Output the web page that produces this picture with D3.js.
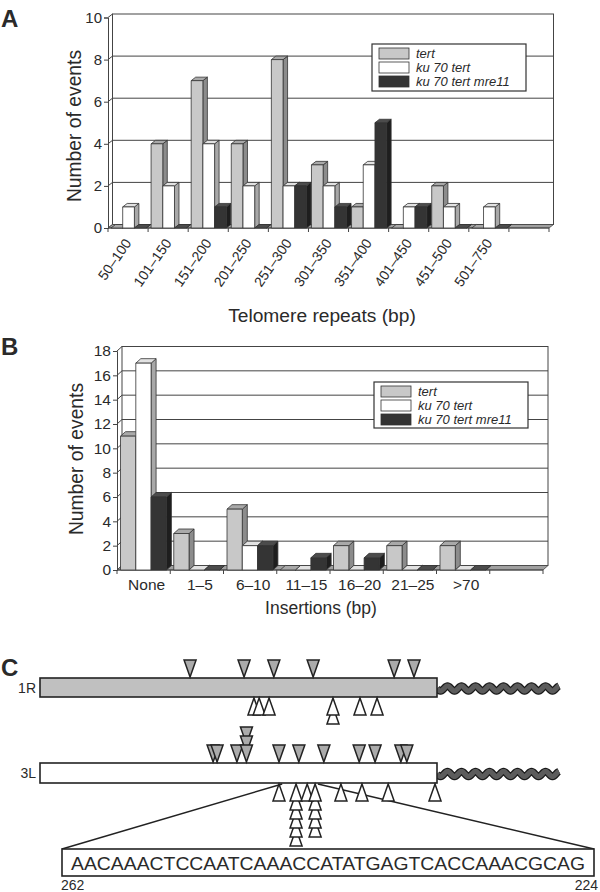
<!DOCTYPE html>
<html><head><meta charset="utf-8">
<script src="https://cdn.jsdelivr.net/npm/d3@7"></script>
<style>
body{margin:0;background:#fff}
svg{display:block}
text{font-family:"Liberation Sans",Arial,Helvetica,sans-serif;fill:#2a2a2a}
</style>
</head><body>
<svg id="c" width="600" height="892"></svg>
<script>
// ---------- Panel A data ----------
const catsA = ["50–100","101–150","151–200","201–250","251–300","301–350","351–400","401–450","451–500","501–750"];
const tertA  = [0,4,7,4,8,3,1,0,2,0];
const ku70A  = [1,2,4,2,2,2,3,1,1,1];
const mre11A = [0,0,1,0,2,1,5,1,0,0];
const ticksA = [0,2,4,6,8,10];
// ---------- Panel B data ----------
const catsB = ["None","1–5","6–10","11–15","16–20","21–25",">70"];
const tertB  = [11,3,5,0,2,2,2];
const ku70B  = [17,0,2,0,0,0,0];
const mre11B = [6,0,2,1,1,0,0];
const ticksB = [0,2,4,6,8,10,12,14,16,18];
const seriesNames = ["tert","ku 70 tert","ku 70 tert mre11"];
// ---------- Panel C data (position along subtelomere, % of drawn length) ----------
const c1RAbove = [37.8,51.4,58.9,68.8,89.2,94.2];
const c1RBelow = [53.9,55.2,57.7,73.8,73.8,80.6,84.9];
const c3LAbove = [43.6,44.6,49.6,52.0,52.0,52.0,60.2,65.2,71.5,80.4,84.4,90.9,92.4];
const c3LBelow = [60.2,64.5,64.5,64.5,64.5,64.5,64.5,67.3,69.3,69.3,69.3,69.3,69.3,75.8,81.1,87.7,99.5];
const zoomRange = [61,70];
const sequence = "AACAAACTCCAATCAAACCATATGAGTCACCAAACGCAG";
const seqEnds = ["262","224"];

const svg = d3.select("#c");
const palette = [
  {front:"#c8c8c8", top:"#a9a9a9", side:"#8c8c8c"},
  {front:"#ffffff", top:"#e2e2e2", side:"#a8a8a8"},
  {front:"#343434", top:"#4c4c4c", side:"#1e1e1e"}
];
const STROKE = "#333";

function chart3D(o){
  const g = svg.append("g");
  const y = d3.scaleLinear().domain([0,o.yMax]).range([o.bottom,o.top]);
  const x = d3.scaleBand().domain(d3.range(o.nSlots)).range([o.x0,o.x1]);
  const xs = d3.scaleBand().domain([0,1,2]).range([o.pad, o.pad+3*o.bw]);
  const dx=o.dx, dy=o.dy;
  // back wall
  g.append("rect").attr("x",o.x0+dx).attr("y",y(o.yMax)+dy)
    .attr("width",o.x1-o.x0).attr("height",y(0)-y(o.yMax))
    .attr("fill","#fff").attr("stroke","#444").attr("stroke-width",1);
  // gridlines
  o.ticks.forEach(t=>{
    if(t>0 && t<o.yMax){
      g.append("line").attr("x1",o.x0+dx).attr("x2",o.x1+dx)
        .attr("y1",y(t)+dy).attr("y2",y(t)+dy).attr("stroke","#444").attr("stroke-width",1);
    }
    g.append("line").attr("x1",o.x0).attr("x2",o.x0+dx)
      .attr("y1",y(t)).attr("y2",y(t)+dy).attr("stroke","#444").attr("stroke-width",1);
  });
  // floor
  g.append("path").attr("d",`M${o.x0},${y(0)}L${o.x1},${y(0)}L${o.x1+dx},${y(0)+dy}L${o.x0+dx},${y(0)+dy}Z`)
    .attr("fill","#a0a0a0").attr("stroke","#444").attr("stroke-width",0.8);
  // y axis
  const ya = g.append("g").attr("transform",`translate(${o.x0},0)`)
    .call(d3.axisLeft(y).tickValues(o.ticks).tickSize(4).tickPadding(2));
  ya.select(".domain").attr("stroke","#444");
  ya.selectAll(".tick line").attr("stroke","#444");
  ya.selectAll(".tick text").attr("font-size",o.tickFont).attr("fill","#2a2a2a")
    .attr("font-family","Liberation Sans, Arial, sans-serif");
  // x axis
  const xa = g.append("g").attr("transform",`translate(0,${y(0)})`)
    .call(d3.axisBottom(x).tickSize(0).tickFormat(""));
  xa.select(".domain").remove();
  g.append("line").attr("x1",o.x0).attr("x2",o.x1).attr("y1",y(0)).attr("y2",y(0)).attr("stroke","#444");
  d3.range(o.nSlots+1).forEach(i=>{
    const xx = i<o.nSlots ? x(i) : o.x1;
    g.append("line").attr("x1",xx).attr("x2",xx).attr("y1",y(0)).attr("y2",y(0)+4).attr("stroke","#444");
  });
  // bars
  o.cats.forEach((c,ci)=>{
    o.series.forEach((vals,si)=>{
      const v = vals[ci];
      const xl = x(ci)+xs(si), xr = xl+o.bw, yt = y(v), yb = y(0);
      const col = palette[si];
      const bg = g.append("g").attr("stroke",STROKE).attr("stroke-width",0.8).attr("stroke-linejoin","round");
      bg.append("path").attr("d",`M${xr},${yb}L${xr},${yt}L${xr+dx},${yt+dy}L${xr+dx},${yb+dy}Z`).attr("fill",col.side);
      bg.append("path").attr("d",`M${xl},${yt}L${xl+dx},${yt+dy}L${xr+dx},${yt+dy}L${xr},${yt}Z`).attr("fill",col.top);
      if(v>0) bg.append("rect").attr("x",xl).attr("y",yt).attr("width",o.bw).attr("height",yb-yt).attr("fill",col.front);
    });
  });
  // category labels
  o.cats.forEach((c,ci)=>{
    const cx = x(ci)+x.bandwidth()/2;
    if(o.rotate){
      g.append("text").attr("transform",`translate(${cx+o.labDx},${o.labY}) rotate(${o.rotate})`)
        .attr("text-anchor","end").attr("font-size",o.catFont).text(c);
    } else {
      g.append("text").attr("x",cx+o.labDx).attr("y",o.labY).attr("text-anchor","middle")
        .attr("font-size",o.catFont).text(c);
    }
  });
  // axis titles
  g.append("text").attr("transform",`translate(${o.ytX},${o.ytY}) rotate(-90)`)
    .attr("text-anchor","middle").attr("font-size",19.3).text("Number of events");
  g.append("text").attr("x",o.xtX).attr("y",o.xtY).attr("text-anchor","middle")
    .attr("font-size",o.xtFont).text(o.xTitle);
  // legend
  const L = o.legend;
  const lg = g.append("g");
  lg.append("rect").attr("x",L.x).attr("y",L.y).attr("width",L.w).attr("height",L.h)
    .attr("fill","#fff").attr("stroke","#333").attr("stroke-width",1.2);
  seriesNames.forEach((n,i)=>{
    lg.append("rect").attr("x",L.x+7).attr("y",L.y+4+i*L.row).attr("width",30).attr("height",L.row-3)
      .attr("fill",palette[i].front).attr("stroke","#333").attr("stroke-width",0.8);
    lg.append("text").attr("x",L.x+44).attr("y",L.y+13.5+i*L.row).attr("font-size",13)
      .attr("font-style","italic").text(n);
  });
  return g;
}

// Panel A
chart3D({x0:108,x1:549,top:17.5,bottom:228,yMax:10,dx:4.5,dy:-3.5,nSlots:11,
  cats:catsA, series:[tertA,ku70A,mre11A], ticks:ticksA, pad:3, bw:11.7, tickFont:15,
  rotate:-55, labDx:4, labY:243, catFont:14,
  ytX:81, ytY:126, xtX:322, xtY:322, xtFont:19.2, xTitle:"Telomere repeats (bp)",
  legend:{x:372,y:44,w:154,h:47,row:14}});
// Panel B
chart3D({x0:117,x1:543,top:351,bottom:570,yMax:18,dx:5,dy:-4.5,nSlots:8,
  cats:catsB, series:[tertB,ku70B,mre11B], ticks:ticksB, pad:3.5, bw:15.3, tickFont:15.5,
  rotate:0, labDx:3, labY:590, catFont:15.5,
  ytX:83, ytY:459, xtX:321, xtY:614, xtFont:17.5, xTitle:"Insertions (bp)",
  legend:{x:374,y:382,w:154,h:46,row:14}});

// panel letters
[["A",27],["B",355],["C",676]].forEach(([t,yy])=>{
  svg.append("text").attr("x",1).attr("y",yy).attr("font-size",24).attr("font-weight","bold")
    .attr("fill","#111").text(t);
});

// ---------- Panel C ----------
const xC = d3.scaleLinear().domain([0,100]).range([40,437]);
const TW=12, TH=17, LV=9;
function stackLevels(arr){
  const seen = {};
  return arr.map(p=>{const k=String(p); seen[k]=(seen[k]||0); return {p, lvl:seen[k]++};});
}
function chromosome(yTop, h, fill, label, above, below){
  const g = svg.append("g");
  const yc = yTop+h/2+1;
  const wave = d3.range(0,123,1).map(t=>[xC(100)+t, yc+2.6*Math.sin(t/14*2*Math.PI)]);
  const line = d3.line().curve(d3.curveBasis);
  g.append("path").attr("d",line(wave)).attr("fill","none").attr("stroke","#1a1a1a").attr("stroke-width",7.5);
  g.append("path").attr("d",line(wave)).attr("fill","none").attr("stroke","#5c5c5c").attr("stroke-width",5);
  g.append("rect").attr("x",xC(0)).attr("y",yTop).attr("width",xC(100)-xC(0)).attr("height",h)
    .attr("fill",fill).attr("stroke","#222").attr("stroke-width",1.6);
  g.append("text").attr("x",36).attr("y",yTop+h/2+5).attr("text-anchor","end").attr("font-size",14).text(label);
  stackLevels(above).sort((a,b)=>b.lvl-a.lvl).forEach(d=>{
    const cx=xC(d.p), tip=yTop-1-d.lvl*LV;
    g.append("path").attr("d",`M${cx-TW/2},${tip-TH}L${cx+TW/2},${tip-TH}L${cx},${tip}Z`)
      .attr("fill","#ababab").attr("stroke","#222").attr("stroke-width",1.5);
  });
  stackLevels(below).sort((a,b)=>b.lvl-a.lvl).forEach(d=>{
    const cx=xC(d.p), tip=yTop+h+1+d.lvl*LV;
    g.append("path").attr("d",`M${cx-TW/2},${tip+TH}L${cx+TW/2},${tip+TH}L${cx},${tip}Z`)
      .attr("fill","#fff").attr("stroke","#222").attr("stroke-width",1.5);
  });
  return g;
}
const box = {x0:62,x1:594,y0:849,y1:876};
svg.append("line").attr("x1",xC(zoomRange[0])).attr("y1",784).attr("x2",box.x0).attr("y2",box.y0)
  .attr("stroke","#222").attr("stroke-width",1.5);
svg.append("line").attr("x1",xC(zoomRange[1])).attr("y1",784).attr("x2",box.x1).attr("y2",box.y0)
  .attr("stroke","#222").attr("stroke-width",1.5);
chromosome(678,19,"#c0c0c0","1R",c1RAbove,c1RBelow);
chromosome(763,20,"#ffffff","3L",c3LAbove,c3LBelow);
svg.append("rect").attr("x",box.x0).attr("y",box.y0).attr("width",box.x1-box.x0).attr("height",box.y1-box.y0)
  .attr("fill","#fff").attr("stroke","#222").attr("stroke-width",1.6);
svg.append("text").attr("x",(box.x0+box.x1)/2).attr("y",870).attr("text-anchor","middle")
  .attr("font-size",19.2).attr("textLength",514).attr("lengthAdjust","spacingAndGlyphs").text(sequence);
svg.append("text").attr("x",box.x0-1).attr("y",890).attr("font-size",14).text(seqEnds[0]);
svg.append("text").attr("x",598).attr("y",890).attr("text-anchor","end").attr("font-size",14).text(seqEnds[1]);
</script>
</body></html>
